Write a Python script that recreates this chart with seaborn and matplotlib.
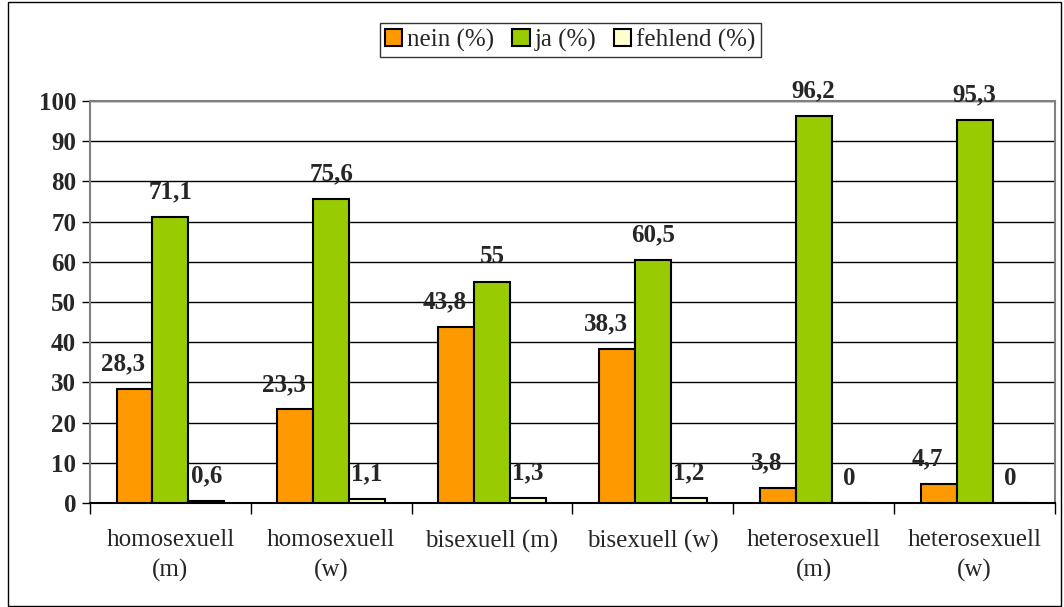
import pandas as pd
import numpy as np
import matplotlib.pyplot as plt
import seaborn as sns
from matplotlib.patches import Rectangle

groups = ['homosexuell\n(m)', 'homosexuell\n(w)', 'bisexuell (m)',
          'bisexuell (w)', 'heterosexuell\n(m)', 'heterosexuell\n(w)']
nein = [28.3, 23.3, 43.8, 38.3, 3.8, 4.7]
ja = [71.1, 75.6, 55, 60.5, 96.2, 95.3]
fehlend = [0.6, 1.1, 1.3, 1.2, 0, 0]
series_names = ['nein (%)', 'ja (%)', 'fehlend (%)']
series_colors = ['#FF9900', '#99CC00', '#FFFFCC']
y_ticks = list(range(0, 101, 10))

df = pd.DataFrame({
    'gruppe': groups * 3,
    'serie': [s for s in series_names for _ in groups],
    'wert': nein + ja + fehlend,
})

sns.set_style('white')
plt.rcParams['font.family'] = ['Liberation Serif', 'DejaVu Serif']

fig = plt.figure(figsize=(10.64, 6.07), dpi=100)
ax = fig.add_axes([0.0846, 0.1713, 0.9069, 0.6623])

sns.barplot(data=df, x='gruppe', y='wert', hue='serie', palette=series_colors,
            saturation=1, width=0.67, gap=0, edgecolor='black', linewidth=1.5,
            ax=ax, zorder=3)

# --- value labels ---
label_dx = [-8, 0, 0]
for i, cont in enumerate(ax.containers):
    for bar in cont:
        v = bar.get_height()
        txt = f'{v:g}'.replace('.', ',')
        ax.annotate(txt, (bar.get_x() + bar.get_width() / 2, v),
                    xytext=(label_dx[i], 18), textcoords='offset points',
                    ha='center', va='center', fontsize=18, fontweight='bold')

# --- axes styling ---
ax.set_ylim(0, 100)
ax.set_yticks(y_ticks)
ax.set_xlim(-0.5, len(groups) - 0.5)
ax.yaxis.grid(True, color='black', lw=1)
ax.set_axisbelow(True)
ax.set_xlabel('')
ax.set_ylabel('')
for lab in ax.get_yticklabels():
    lab.set_fontweight('bold')
for lab in ax.get_xticklabels():
    lab.set_linespacing(1.45)
ax.tick_params(axis='y', which='major', direction='out', length=6, width=1,
               color='black', labelsize=18, pad=4, left=True)
ax.tick_params(axis='x', which='major', length=0, labelsize=18, pad=19)
ax.set_xticks(np.arange(-0.5, len(groups), 1), minor=True)
ax.tick_params(axis='x', which='minor', direction='out', length=8, width=1,
               color='black', bottom=True)
for side in ['top', 'right', 'left']:
    ax.spines[side].set_color('#808080')
    ax.spines[side].set_linewidth(1.5)
ax.spines['bottom'].set_color('black')
ax.spines['bottom'].set_linewidth(1.5)

# --- legend ---
handles, labels = ax.get_legend_handles_labels()
ax.get_legend().remove()
leg = fig.legend(handles, labels, loc='center', bbox_to_anchor=(0.536, 0.934),
                 ncol=3, frameon=True, fancybox=False, edgecolor='black',
                 handlelength=0.7, handleheight=0.7, handletextpad=0.2,
                 columnspacing=0.7, borderpad=0.2, borderaxespad=0, fontsize=18)
leg.get_frame().set_linewidth(1)

# outer chart border
fig.patches.append(Rectangle((0.0075, 0.002), 0.99, 0.995, transform=fig.transFigure,
                             fill=False, edgecolor='black', lw=1))

fig.savefig('out.png', dpi=100)
